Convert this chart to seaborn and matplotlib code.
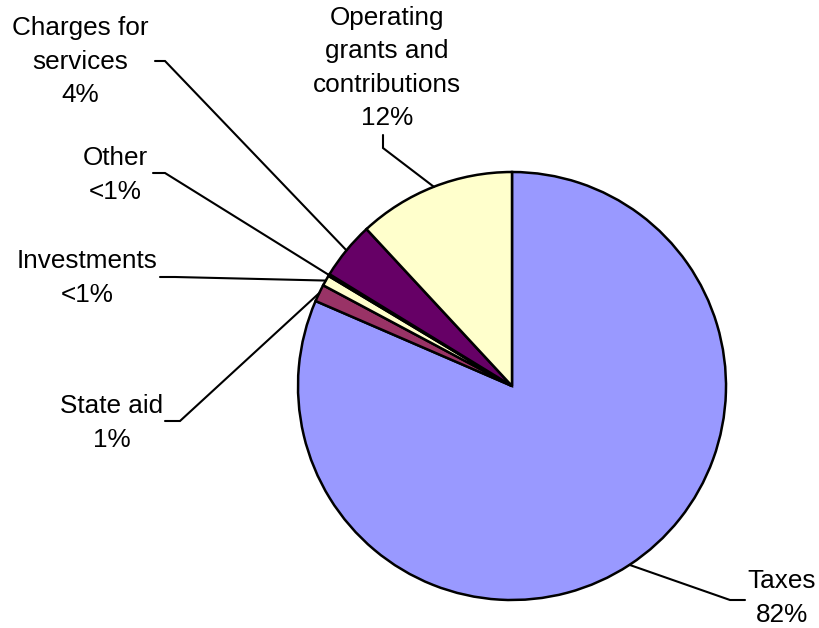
import numpy as np
import seaborn as sns
import matplotlib.pyplot as plt

# revenue sources (percent of total)
labels = ['Taxes', 'State aid', 'Investments', 'Other',
          'Charges for\nservices', 'Operating\ngrants and\ncontributions']
values = [81.5, 1.3, 0.8, 0.15, 4.35, 11.9]
pct_text = ['82%', '1%', '<1%', '<1%', '4%', '12%']
colors = ['#9999FF', '#993366', '#FFFFCC', '#FFFFCC', '#660066', '#FFFFCC']

# label layout (pixel coords, y up): text centre, elbow of the leader, end of stub
text_pos = [(782, 30), (112, 205), (87, 350), (115, 453), (80, 566), (387, 560)]
elbows = [(730, 28), (180, 207), (175, 351), (165, 455), (165, 567), (383, 480)]
stubs = [(745, 28), (165, 207), (160, 351), (153, 455), (155, 567), (383, 493)]

sns.set_theme(style='white')
plt.rcParams['font.family'] = ['Liberation Sans', 'DejaVu Sans']

fig = plt.figure(figsize=(8.2, 6.28), dpi=100)
ax = fig.add_axes([0, 0, 1, 1])
cx, cy, r = 512, 242, 214

wedges, _ = ax.pie(values, colors=colors, startangle=90, counterclock=False,
                   radius=r, center=(cx, cy),
                   wedgeprops=dict(edgecolor='black', linewidth=1.8))

for i, w in enumerate(wedges):
    mid = np.deg2rad((w.theta1 + w.theta2) / 2)
    ex, ey = cx + r * np.cos(mid), cy + r * np.sin(mid)
    bx, by = elbows[i]
    sx, sy = stubs[i]
    ax.plot([ex, bx, sx], [ey, by, sy], color='black', linewidth=1.5,
            solid_joinstyle='miter')
    ax.text(text_pos[i][0], text_pos[i][1], labels[i] + '\n' + pct_text[i],
            ha='center', va='center', fontsize=18.8, linespacing=1.5,
            color='black')

ax.set_xlim(0, 820)
ax.set_ylim(0, 628)
ax.set_aspect('equal')
ax.axis('off')

plt.savefig('out.png', dpi=100)
